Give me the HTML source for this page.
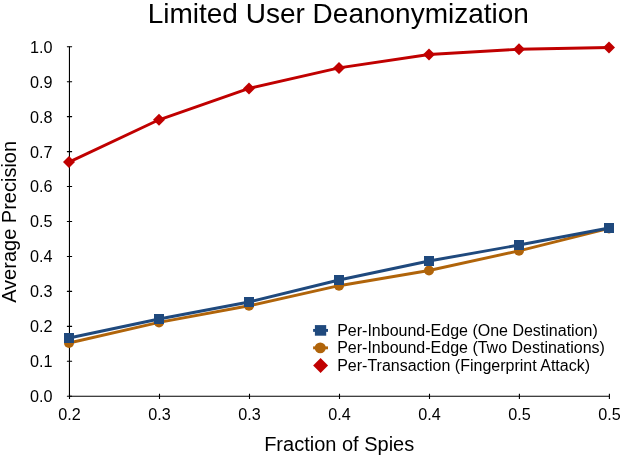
<!DOCTYPE html>
<html><head><meta charset="utf-8"><title>Limited User Deanonymization</title>
<style>
html,body{margin:0;padding:0;background:#fff;}
svg{display:block;}
text{font-family:"Liberation Sans",Arial,sans-serif;fill:#000;}
</style></head><body>
<svg width="620" height="455" viewBox="0 0 620 455">
<rect width="620" height="455" fill="#fff"/>
<text x="338.3" y="23" font-size="28" text-anchor="middle">Limited User Deanonymization</text>
<g stroke="#000" stroke-width="1.1" fill="none">
<path d="M69.45 46.4V396.3"/>
<path d="M69 396.3H609.5"/>
<path d="M66.9 46.7h5.2M66.9 81.7h5.2M66.9 116.6h5.2M66.9 151.6h5.2M66.9 186.5h5.2M66.9 221.5h5.2M66.9 256.5h5.2M66.9 291.4h5.2M66.9 326.4h5.2M66.9 361.3h5.2M66.9 396.3h5.2"/>
<path d="M69.5 393.8v5.1M159.5 393.8v5.1M249.5 393.8v5.1M339.5 393.8v5.1M429.5 393.8v5.1M519.4 393.8v5.1M609.4 393.8v5.1"/>
</g>
<g font-size="16.2" text-anchor="end">
<text x="52.6" y="52.6">1.0</text>
<text x="52.6" y="87.6">0.9</text>
<text x="52.6" y="122.5">0.8</text>
<text x="52.6" y="157.5">0.7</text>
<text x="52.6" y="192.4">0.6</text>
<text x="52.6" y="227.4">0.5</text>
<text x="52.6" y="262.4">0.4</text>
<text x="52.6" y="297.3">0.3</text>
<text x="52.6" y="332.3">0.2</text>
<text x="52.6" y="367.2">0.1</text>
<text x="52.6" y="402.2">0.0</text>
</g>
<g font-size="16.2" text-anchor="middle">
<text x="69.5" y="419.8">0.2</text>
<text x="159.6" y="419.8">0.3</text>
<text x="249.6" y="419.8">0.3</text>
<text x="339.6" y="419.8">0.4</text>
<text x="429.6" y="419.8">0.4</text>
<text x="519.5" y="419.8">0.5</text>
<text x="609.5" y="419.8">0.5</text>
</g>
<text x="339.2" y="450.5" font-size="20" text-anchor="middle">Fraction of Spies</text>
<text transform="translate(15.7,221.9) rotate(-90)" font-size="20" text-anchor="middle">Average Precision</text>
<g fill="#b0640a"><polyline points="69.0,343.0 159.0,322.4 249.0,305.8 339.0,285.7 429.0,270.5 519.0,250.8 609.0,228.4" fill="none" stroke="#b0640a" stroke-width="2.9" stroke-linejoin="round"/><circle cx="69.0" cy="343.0" r="5.0"/><circle cx="159.0" cy="322.4" r="5.0"/><circle cx="249.0" cy="305.8" r="5.0"/><circle cx="339.0" cy="285.7" r="5.0"/><circle cx="429.0" cy="270.5" r="5.0"/><circle cx="519.0" cy="250.8" r="5.0"/><circle cx="609.0" cy="228.4" r="5.0"/></g>
<g fill="#1f497d"><polyline points="69.0,338.0 159.0,319.0 249.0,302.0 339.0,280.0 429.0,261.0 519.0,245.0 609.0,228.0" fill="none" stroke="#1f497d" stroke-width="2.9" stroke-linejoin="round"/><rect x="64.0" y="333.0" width="10.0" height="10.0"/><rect x="154.0" y="314.0" width="10.0" height="10.0"/><rect x="244.0" y="297.0" width="10.0" height="10.0"/><rect x="334.0" y="275.0" width="10.0" height="10.0"/><rect x="424.0" y="256.0" width="10.0" height="10.0"/><rect x="514.0" y="240.0" width="10.0" height="10.0"/><rect x="604.0" y="223.0" width="10.0" height="10.0"/></g>
<g fill="#c00000"><polyline points="69.0,162.1 159.0,119.8 249.0,88.4 339.0,67.9 429.0,54.5 519.0,49.2 609.0,47.5" fill="none" stroke="#c00000" stroke-width="2.9" stroke-linejoin="round"/><path d="M69.0 156.1l6.0 6.0l-6.0 6.0l-6.0 -6.0z"/><path d="M159.0 113.8l6.0 6.0l-6.0 6.0l-6.0 -6.0z"/><path d="M249.0 82.4l6.0 6.0l-6.0 6.0l-6.0 -6.0z"/><path d="M339.0 61.9l6.0 6.0l-6.0 6.0l-6.0 -6.0z"/><path d="M429.0 48.5l6.0 6.0l-6.0 6.0l-6.0 -6.0z"/><path d="M519.0 43.2l6.0 6.0l-6.0 6.0l-6.0 -6.0z"/><path d="M609.0 41.5l6.0 6.0l-6.0 6.0l-6.0 -6.0z"/></g>
<g>
<path d="M313.1 330.4h14.9" stroke="#1f497d" stroke-width="2.9"/>
<rect x="314.9" y="325.1" width="11.3" height="10.6" fill="#1f497d"/>
<path d="M313.1 347.85h14.9" stroke="#b0640a" stroke-width="2.9"/>
<ellipse cx="320.25" cy="347.85" rx="5.55" ry="5.45" fill="#b0640a"/>
<g fill="#c00000"><path d="M320.6 358.1l7.45 7.45l-7.45 7.45l-7.45 -7.45z"/></g>
<g font-size="16">
<text x="337.2" y="335.7">Per-Inbound-Edge (One Destination)</text>
<text x="337.2" y="353.1">Per-Inbound-Edge (Two Destinations)</text>
<text x="337.2" y="370.6">Per-Transaction (Fingerprint Attack)</text>
</g>
</g>
</svg>
</body></html>
